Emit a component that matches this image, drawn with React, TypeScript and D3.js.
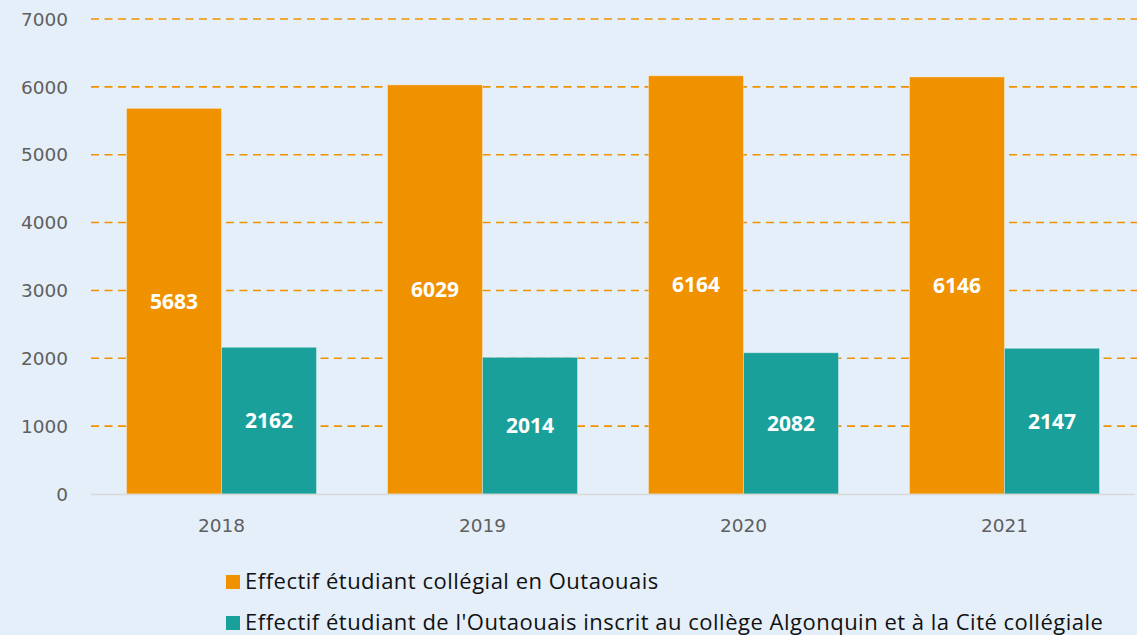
import React, { useEffect, useRef } from 'react';
import * as d3 from 'd3';

// données
const years = ['2018', '2019', '2020', '2021'];
const effectifOutaouais = [5683, 6029, 6164, 6146];
const effectifAlgonquin = [2162, 2014, 2082, 2147];
const yTicks = [0, 1000, 2000, 3000, 4000, 5000, 6000, 7000];
const seriesNames = [
  'Effectif étudiant collégial en Outaouais',
  "Effectif étudiant de l'Outaouais inscrit au collège Algonquin et à la Cité collégiale",
];
const colors = ['#F09200', '#1AA09A'];

const App = () => {
  const chartRef = useRef<SVGSVGElement | null>(null);

  useEffect(() => {
    const width = 1137;
    const height = 635;
    const marginLeft = 91;
    const marginRight = 2;
    const yTop = 19;
    const yBottom = 494;

    const svg = d3.select(chartRef.current);
    svg.selectAll('*').remove();

    svg.append('rect')
      .attr('width', width)
      .attr('height', height)
      .attr('fill', '#E5EFF9');

    const x = d3.scaleBand()
      .domain(years)
      .range([marginLeft, width - marginRight])
      .paddingInner(0.272)
      .paddingOuter(0.136);

    const xInner = d3.scaleBand()
      .domain(['0', '1'])
      .range([0, x.bandwidth()]);

    const y = d3.scaleLinear()
      .domain([0, 7000])
      .range([yBottom, yTop]);

    // grille pointillée
    svg.append('g')
      .selectAll('line')
      .data(yTicks.filter(t => t > 0))
      .join('line')
      .attr('x1', marginLeft)
      .attr('x2', width)
      .attr('y1', d => y(d))
      .attr('y2', d => y(d))
      .attr('stroke', '#F09200')
      .attr('stroke-width', 1.6)
      .attr('stroke-dasharray', '8 5.5');

    // étiquettes de l'axe Y
    svg.append('g')
      .selectAll('text')
      .data(yTicks)
      .join('text')
      .attr('x', 68)
      .attr('y', d => y(d))
      .attr('dy', '0.36em')
      .attr('text-anchor', 'end')
      .attr('font-family', 'DejaVu Sans')
      .attr('font-size', 18.5)
      .attr('fill', '#5F5F5F')
      .text(d => d);

    const series = [effectifOutaouais, effectifAlgonquin];

    series.forEach((values, s) => {
      const g = svg.append('g');
      g.selectAll('rect')
        .data(values)
        .join('rect')
        .attr('x', (d, i) => x(years[i])! + xInner(String(s))!)
        .attr('y', d => y(d))
        .attr('width', xInner.bandwidth())
        .attr('height', d => y(0) - y(d))
        .attr('fill', colors[s])
        .attr('stroke', 'rgba(255,255,255,0.35)')
        .attr('stroke-width', 1);

      g.selectAll('text')
        .data(values)
        .join('text')
        .attr('x', (d, i) => x(years[i])! + xInner(String(s))! + xInner.bandwidth() / 2)
        .attr('y', d => y(d / 2))
        .attr('dy', '0.36em')
        .attr('text-anchor', 'middle')
        .attr('font-family', 'Open Sans')
        .attr('font-weight', 'bold')
        .attr('font-size', 21)
        .attr('fill', '#ffffff')
        .text(d => d);
    });

    // axe X
    svg.append('line')
      .attr('x1', marginLeft)
      .attr('x2', width - marginRight)
      .attr('y1', yBottom + 0.5)
      .attr('y2', yBottom + 0.5)
      .attr('stroke', '#D9D9D9')
      .attr('stroke-width', 1.5);

    svg.append('g')
      .selectAll('text')
      .data(years)
      .join('text')
      .attr('x', d => x(d)! + x.bandwidth() / 2)
      .attr('y', 525)
      .attr('dy', '0.36em')
      .attr('text-anchor', 'middle')
      .attr('font-family', 'DejaVu Sans')
      .attr('font-size', 18.5)
      .attr('fill', '#5F5F5F')
      .text(d => d);

    // légende
    const legend = svg.append('g')
      .selectAll('g')
      .data(seriesNames)
      .join('g')
      .attr('transform', (d, i) => `translate(226,${582 + i * 41})`);

    legend.append('rect')
      .attr('x', 0)
      .attr('y', -7)
      .attr('width', 14)
      .attr('height', 14)
      .attr('fill', (d, i) => colors[i]);

    legend.append('text')
      .attr('x', 19)
      .attr('y', 0)
      .attr('dy', '0.34em')
      .attr('font-family', 'Open Sans')
      .attr('font-size', 22)
      .attr('letter-spacing', 0.5)
      .attr('fill', '#111111')
      .text(d => d);
  }, []);

  return (
    <svg
      ref={chartRef}
      width={1137}
      height={635}
      style={{ position: 'absolute', left: 0, top: 0, display: 'block' }}
    />
  );
};

export default App;
